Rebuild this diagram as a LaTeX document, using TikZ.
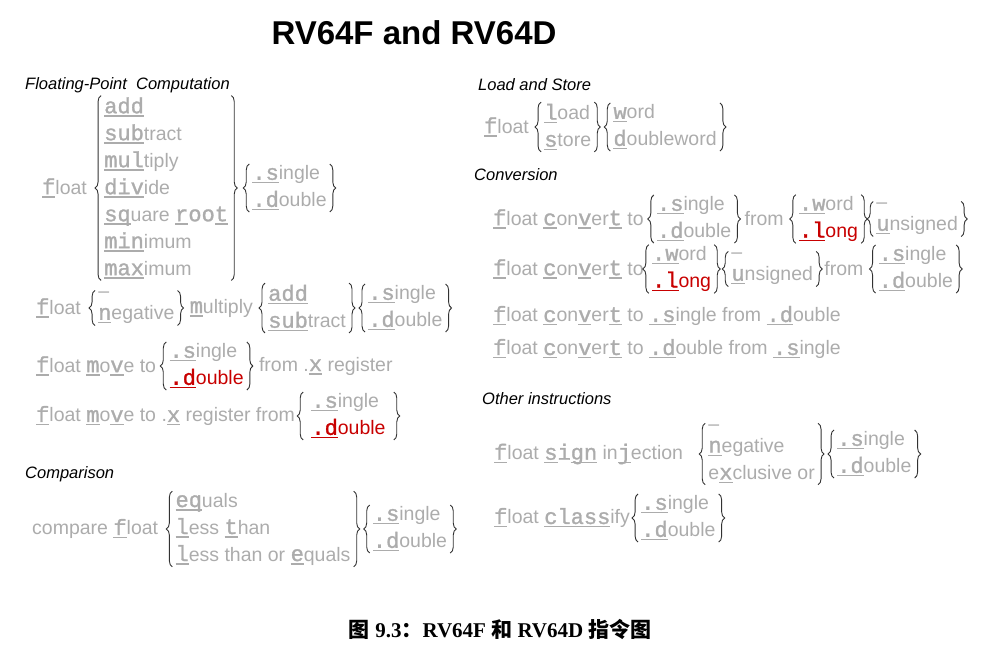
\documentclass[tikz,border=0pt]{standalone}
\usepackage{fontspec}
\setmainfont{Liberation Sans}
\setmonofont[Scale=1.13, FakeBold=1.3]{Liberation Mono}
\newfontfamily\cjkfont{Noto Sans CJK SC}
\newfontfamily\capfont{Liberation Serif}
\usetikzlibrary{positioning,decorations.pathreplacing}
\definecolor{insgray}{RGB}{172,172,172}
\definecolor{insred}{RGB}{200,0,0}
\definecolor{brcol}{RGB}{50,50,50}
\newcommand{\mono}[1]{{\ttfamily #1}}
\newcommand{\ul}[1]{\setbox0=\hbox{\ttfamily #1}\rlap{\rule[-3.5pt]{\wd0}{1.5pt}}\box0\relax}

\begin{document}
\begin{tikzpicture}[x=1pt, y=-1pt,
  txt/.style={anchor=west, inner sep=0pt, text=insgray, font=\fontsize{19.5}{27}\selectfont},
  grp/.style={txt, align=left, inner xsep=3pt, inner ysep=1.5pt},
  sec/.style={anchor=west, inner sep=0pt, font=\fontsize{16.5}{20}\selectfont\itshape},
  brc/.style={draw=brcol, line width=0.9pt, decorate, decoration={brace, amplitude=6pt}}]
  \useasboundingbox (0,0) rectangle (982,650);
  \node[font=\fontsize{33}{36}\selectfont\bfseries] (title) at (414,33) {RV64F and RV64D};
  % computation
  \node[sec] (hcomp) at (25,85) {Floating-Point\ \ Computation};
  \node[txt] (fA) at (42,188) {\ul{f}loat};
  \node[grp, right=14pt of fA] (opA) {\ul{add}\\\ul{sub}tract\\\ul{mul}tiply\\\ul{div}ide\\\ul{sq}uare \ul{r}\mono{oo}\ul{t}\\\ul{min}imum\\\ul{max}imum};
  \node[grp, right=18pt of opA] (pA) {\ul{.s}ingle\\\ul{.d}ouble};
  \node[txt] (fB) at (36,308) {\ul{f}loat};
  \node[grp, right=14pt of fB] (nB) {–\\[-5pt]\ul{n}egative};
  \node[txt, right=12pt of nB] (mB) {\ul{m}ultiply};
  \node[grp, right=12pt of mB] (oB) {\ul{add}\\\ul{sub}tract};
  \node[grp, right=16pt of oB] (pB) {\ul{.s}ingle\\\ul{.d}ouble};
  \node[txt] (fC) at (36,366) {\ul{f}loat \ul{m}o\ul{v}e to};
  \node[grp, right=10pt of fC] (pC) {\ul{.s}ingle\\{\color{insred}\ul{.d}ouble}};
  \node[txt, right=12pt of pC] (xC) {from .\ul{x} register};
  \node[txt] (fD) at (36,416) {\ul{f}loat \ul{m}o\ul{v}e to .\ul{x} register from};
  \node[grp, right=8pt of fD, inner xsep=8pt] (pD) {\ul{.s}ingle\\{\color{insred}\ul{.d}ouble}};
  % comparison
  \node[sec] (hcmp) at (25,474) {Comparison};
  \node[txt] (fE) at (32,529) {compare \ul{f}loat};
  \node[grp, right=14pt of fE] (oE) {\ul{eq}uals\\\ul{l}ess \ul{t}han\\\ul{l}ess than or \ul{e}quals};
  \node[grp, right=16pt of oE] (pE) {\ul{.s}ingle\\\ul{.d}ouble};
  % load and store
  \node[sec] (hls) at (478,85) {Load and Store};
  \node[txt] (fF) at (484,127) {\ul{f}loat};
  \node[grp, right=12pt of fF] (oF) {\ul{l}oad\\\ul{s}tore};
  \node[grp, right=16pt of oF] (wF) {\ul{w}ord\\\ul{d}oubleword};
  % conversion
  \node[sec] (hcv) at (474,175) {Conversion};
  \node[txt] (fG) at (493,219) {\ul{f}loat \ul{c}on\ul{v}er\ul{t} to};
  \node[grp, right=10pt of fG] (pG) {\ul{.s}ingle\\\ul{.d}ouble};
  \node[txt, right=10pt of pG] (frG) {from};
  \node[grp, right=12pt of frG] (iG) {\ul{.w}ord\\{\color{insred}\ul{.l}ong}};
  \node[grp, right=12pt of iG] (uG) {–\\[-5pt]\ul{u}nsigned};
  \node[txt] (fH) at (493,269) {\ul{f}loat \ul{c}on\ul{v}er\ul{t} to};
  \node[grp, right=5pt of fH] (iH) {\ul{.w}ord\\{\color{insred}\ul{.l}ong}};
  \node[grp, right=14pt of iH] (uH) {–\\[-5pt]\ul{u}nsigned};
  \node[txt, right=8pt of uH] (frH) {from};
  \node[grp, right=12pt of frH] (pH) {\ul{.s}ingle\\\ul{.d}ouble};
  \node[txt] (fI) at (493,316) {\ul{f}loat \ul{c}on\ul{v}er\ul{t} to \ul{.s}ingle from \ul{.d}ouble};
  \node[txt] (fJ) at (493,349) {\ul{f}loat \ul{c}on\ul{v}er\ul{t} to \ul{.d}ouble from \ul{.s}ingle};
  % other
  \node[sec] (hoth) at (482,399) {Other instructions};
  \node[txt] (fK) at (494,454) {\ul{f}loat \ul{s}\mono{i}\ul{gn} in\ul{j}ection};
  \node[grp, right=22pt of fK] (oK) {–\\[-5pt]\ul{n}egative\\e\ul{x}clusive or};
  \node[grp, right=16pt of oK] (pK) {\ul{.s}ingle\\\ul{.d}ouble};
  \node[txt] (fL) at (494,518) {\ul{f}loat \ul{class}ify};
  \node[grp, right=8pt of fL] (pL) {\ul{.s}ingle\\\ul{.d}ouble};
  \foreach \g in {opA,pA,nB,oB,pB,pC,pD,oE,pE,oF,wF,pG,iG,uG,iH,uH,pH,oK,pK,pL} {
    \draw[brc] (\g.south west) -- (\g.north west);
    \draw[brc] (\g.north east) -- (\g.south east);
  }
  \node[font=\fontsize{21}{24}\selectfont\bfseries] (cap) at (500,629) {{\cjkfont 图} \capfont 9.3{\cjkfont ：}RV64F {\cjkfont 和} RV64D {\cjkfont 指令图}};
\end{tikzpicture}
\end{document}
